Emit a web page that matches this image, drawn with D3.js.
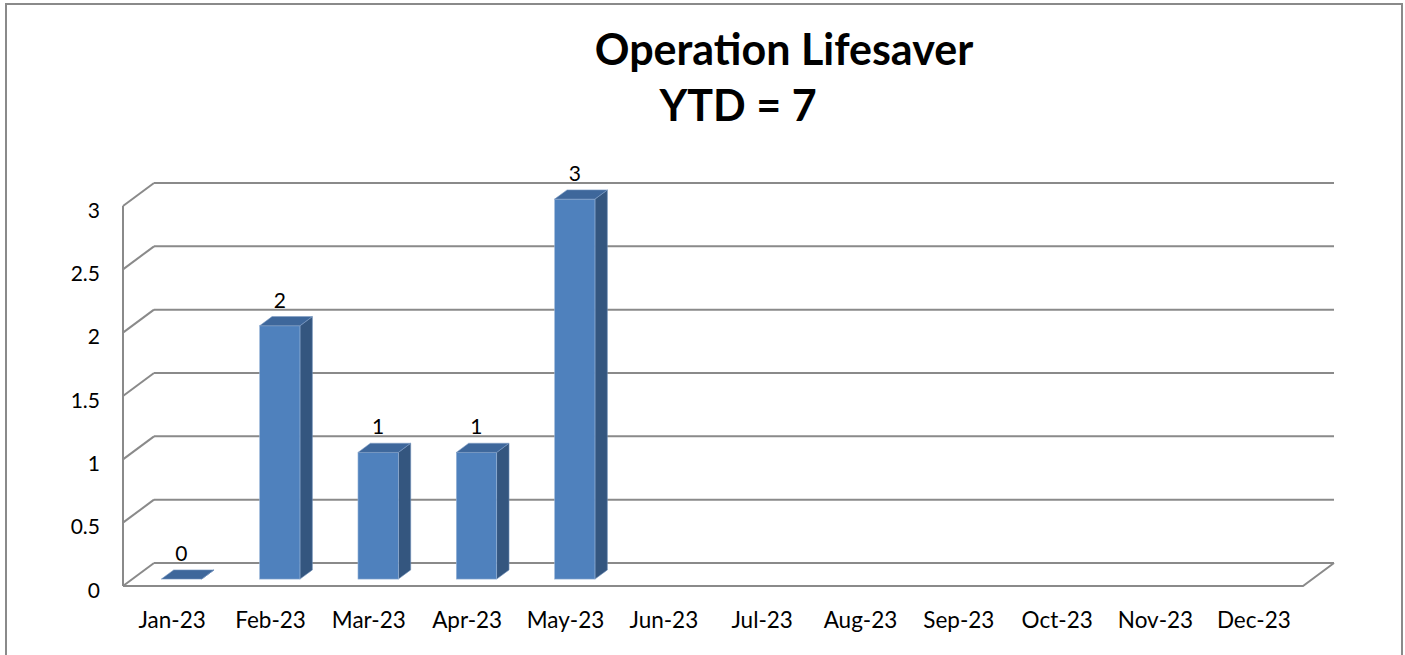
<!DOCTYPE html>
<html>
<head>
<meta charset="utf-8">
<script src="https://cdn.jsdelivr.net/npm/d3@7"></script>
<style>
  body { margin: 0; background: #fff; }
  svg { display: block; }
</style>
</head>
<body>
<div id="chart"></div>
<script>
const months = ["Jan-23", "Feb-23", "Mar-23", "Apr-23", "May-23", "Jun-23",
                "Jul-23", "Aug-23", "Sep-23", "Oct-23", "Nov-23", "Dec-23"];
const values = [0, 2, 1, 1, 3, null, null, null, null, null, null, null];
const yTicks = [0, 0.5, 1, 1.5, 2, 2.5, 3];
const titleLines = ["Operation Lifesaver", "YTD = 7"];

const W = 1405, H = 655;
const font = "Lato, 'Open Sans', sans-serif";

// front plane of the 3d box, depth goes up and to the right
const plot = { left: 123, right: 1303, top: 206, bottom: 586 };
const DX = 31, DY = 23;
const depthFront = 0.30, depthBack = 0.70; // where the bars sit inside the box

const svg = d3.select("#chart").append("svg")
  .attr("width", W)
  .attr("height", H);

// outer frame
svg.append("rect")
  .attr("x", 6).attr("y", 4)
  .attr("width", 1396).attr("height", 680)
  .attr("fill", "white")
  .attr("stroke", "#8a8a8a")
  .attr("stroke-width", 2);

const x = d3.scaleBand()
  .domain(months)
  .range([plot.left, plot.right])
  .padding(0);

const y = d3.scaleLinear()
  .domain([0, 3])
  .range([plot.bottom, plot.top]);

const grid = "#8a8a8a";

// back wall gridlines + left wall diagonals
yTicks.forEach(t => {
  svg.append("line")
    .attr("x1", plot.left + DX).attr("x2", plot.right + DX)
    .attr("y1", y(t) - DY).attr("y2", y(t) - DY)
    .attr("stroke", grid).attr("stroke-width", 2);
  svg.append("line")
    .attr("x1", plot.left).attr("x2", plot.left + DX)
    .attr("y1", y(t)).attr("y2", y(t) - DY)
    .attr("stroke", grid).attr("stroke-width", 2);
});

// floor front edge and right edge
svg.append("path")
  .attr("d", `M${plot.left},${y(0)} H${plot.right} L${plot.right + DX},${y(0) - DY}`)
  .attr("fill", "none")
  .attr("stroke", grid).attr("stroke-width", 2);

// front vertical axis
svg.append("line")
  .attr("x1", plot.left).attr("x2", plot.left)
  .attr("y1", y(3)).attr("y2", y(0))
  .attr("stroke", grid).attr("stroke-width", 2);

// y tick labels
svg.selectAll("text.ytick")
  .data(yTicks)
  .enter()
  .append("text")
  .attr("class", "ytick")
  .attr("x", 100)
  .attr("y", d => y(d) + 3)
  .attr("text-anchor", "end")
  .attr("dominant-baseline", "central")
  .text(d => d3.format("~g")(d))
  .style("font-family", font)
  .style("font-size", "21px")
  .style("fill", "#000");

// x labels
svg.selectAll("text.xtick")
  .data(months)
  .enter()
  .append("text")
  .attr("class", "xtick")
  .attr("x", d => x(d) + x.bandwidth() / 2)
  .attr("y", 628)
  .attr("text-anchor", "middle")
  .text(d => d)
  .style("font-family", font)
  .style("font-size", "22.5px")
  .style("fill", "#000");

// bars
const barW = x.bandwidth() * 0.41;
const fdx = depthFront * DX, fdy = depthFront * DY;
const bdx = (depthBack - depthFront) * DX, bdy = (depthBack - depthFront) * DY;

const bars = months.map((m, i) => ({ month: m, value: values[i] }))
  .filter(d => d.value !== null);

const g = svg.append("g");
bars.forEach(d => {
  const x0 = x(d.month) + (x.bandwidth() - barW) / 2 + fdx;
  const x1 = x0 + barW;
  const yb = y(0) - fdy;
  const yt = y(d.value) - fdy;

  // side
  g.append("path")
    .attr("d", `M${x1},${yt} L${x1 + bdx},${yt - bdy} L${x1 + bdx},${yb - bdy} L${x1},${yb} Z`)
    .attr("fill", "#34567f")
    .attr("stroke", "#6f8fb8").attr("stroke-width", 0.6);
  // front
  if (d.value > 0) {
    g.append("rect")
      .attr("x", x0).attr("y", yt)
      .attr("width", barW).attr("height", yb - yt)
      .attr("fill", "#4f81bd")
      .attr("stroke", "#9bb6d8").attr("stroke-width", 0.6);
  }
  // top
  g.append("path")
    .attr("d", `M${x0},${yt} L${x1},${yt} L${x1 + bdx},${yt - bdy} L${x0 + bdx},${yt - bdy} Z`)
    .attr("fill", "#3e679b")
    .attr("stroke", "#7d9cc4").attr("stroke-width", 0.6);

  // value label
  g.append("text")
    .attr("x", x0 + barW / 2)
    .attr("y", yt - bdy - 9)
    .attr("text-anchor", "middle")
    .text(d.value)
    .style("font-family", font)
    .style("font-size", "21px")
    .style("fill", "#000");
});

// title
svg.append("text")
  .attr("x", 784).attr("y", 65)
  .attr("text-anchor", "middle")
  .text(titleLines[0])
  .style("font-family", font)
  .style("font-weight", 700)
  .style("font-size", "43px");

svg.append("text")
  .attr("x", 738).attr("y", 121)
  .attr("text-anchor", "middle")
  .text(titleLines[1])
  .style("font-family", font)
  .style("font-weight", 700)
  .style("font-size", "43px");
</script>
</body>
</html>
